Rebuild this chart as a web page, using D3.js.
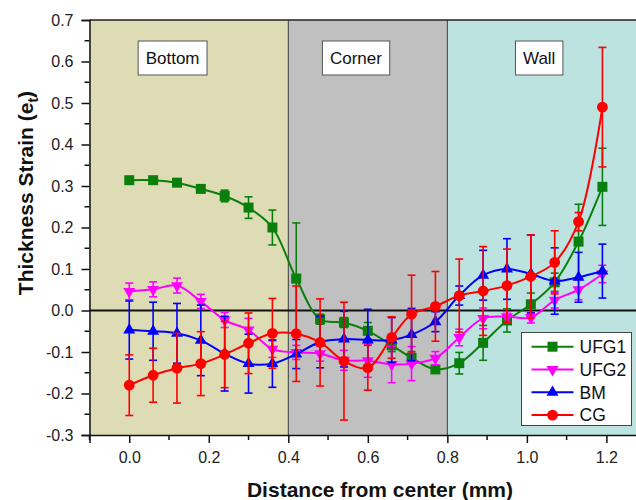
<!DOCTYPE html>
<html>
<head>
<meta charset="utf-8">
<script src="https://cdn.jsdelivr.net/npm/d3@7"></script>
<style>
  html, body { margin: 0; padding: 0; background: #fff; }
  svg { display: block; font-family: "Liberation Sans", Arial, sans-serif; }
</style>
</head>
<body>
<svg id="chart" width="636" height="500"></svg>
<script>
// Measurement positions (mm from center)
const distance = [0, 0.06, 0.12, 0.18, 0.24, 0.30, 0.36, 0.42, 0.48, 0.54, 0.60,
                  0.66, 0.71, 0.77, 0.83, 0.89, 0.95, 1.01, 1.07, 1.13, 1.19];

// Thickness strain means and error half-widths per material
const ufg1 = [0.314, 0.314, 0.308, 0.293, 0.276, 0.248, 0.200, 0.077, -0.021, -0.029, -0.049,
              -0.084, -0.114, -0.142, -0.127, -0.078, -0.024, 0.015, 0.068, 0.166, 0.298];
const ufg1Err = [0.006, 0.006, 0.008, 0.006, 0.014, 0.026, 0.042, 0.134, 0.012, 0.012, 0.020,
                 0.015, 0.015, 0.006, 0.026, 0.042, 0.028, 0.027, 0.022, 0.090, 0.093];

const ufg2 = [0.046, 0.051, 0.060, 0.022, -0.023, -0.047, -0.093, -0.101, -0.104, -0.120, -0.121,
              -0.130, -0.128, -0.115, -0.065, -0.019, -0.015, -0.017, 0.025, 0.050, 0.088];
const ufg2Err = [0.020, 0.018, 0.018, 0.017, 0.018, 0.028, 0.020, 0.017, 0.018, 0.024, 0.040,
                 0.044, 0.041, 0.016, 0.020, 0.025, 0.012, 0.013, 0.019, 0.024, 0.021];

const bm = [-0.047, -0.050, -0.055, -0.072, -0.104, -0.128, -0.128, -0.105, -0.076, -0.069, -0.071,
            -0.071, -0.058, -0.027, 0.036, 0.085, 0.100, 0.088, 0.071, 0.080, 0.095];
const bmErr = [0.070, 0.070, 0.072, 0.085, 0.090, 0.071, 0.057, 0.035, 0.062, 0.067, 0.074,
               0.054, 0.063, 0.024, 0.023, 0.060, 0.073, 0.094, 0.080, 0.060, 0.065];

const cg = [-0.180, -0.156, -0.139, -0.128, -0.106, -0.079, -0.055, -0.056, -0.077, -0.122, -0.138,
            -0.065, -0.009, 0.010, 0.036, 0.047, 0.060, 0.082, 0.116, 0.214, 0.490];
const cgErr = [0.073, 0.065, 0.084, 0.077, 0.080, 0.073, 0.084, 0.115, 0.105, 0.142, 0.054,
               0.050, 0.094, 0.084, 0.088, 0.107, 0.088, 0.100, 0.076, 0.022, 0.144];

const seriesNames = ["UFG1", "UFG2", "BM", "CG"];
const seriesColors = ["#0b7f0b", "#ff00ff", "#0000ff", "#ff0000"];
const seriesSymbols = ["square", "triangleDown", "triangleUp", "circle"];

// Zones along the cup profile
const zoneNames = ["Bottom", "Corner", "Wall"];
const zoneStarts = [-0.1, 0.4, 0.8];
const zoneEnds = [0.4, 0.8, 1.36];
const zoneColors = ["#dedcb5", "#c0c0c0", "#bde3e0"];
const zoneLabelX = [0.109, 0.57, 1.031];

const xTicks = [0.0, 0.2, 0.4, 0.6, 0.8, 1.0, 1.2];
const yTicks = [0.7, 0.6, 0.5, 0.4, 0.3, 0.2, 0.1, 0.0, -0.1, -0.2, -0.3];

const svg = d3.select("#chart");
const plotLeft = 89.5, plotRight = 670, plotTop = 20, plotBottom = 435;

const x = d3.scaleLinear().domain([-0.1, 1.36]).range([plotLeft, plotRight]);
const y = d3.scaleLinear().domain([-0.3, 0.7]).range([plotBottom, plotTop]);

// Zone backgrounds
svg.append("g").selectAll("rect").data(zoneNames).join("rect")
  .attr("x", (d, i) => x(zoneStarts[i]))
  .attr("y", plotTop)
  .attr("width", (d, i) => x(zoneEnds[i]) - x(zoneStarts[i]))
  .attr("height", plotBottom - plotTop)
  .attr("fill", (d, i) => zoneColors[i]);

// Zone boundaries
svg.append("g").selectAll("line").data([0.4, 0.8]).join("line")
  .attr("x1", d => x(d)).attr("x2", d => x(d))
  .attr("y1", plotTop).attr("y2", plotBottom)
  .attr("stroke", "#3a3a3a").attr("stroke-width", 1);

// Zone labels in boxes
const zl = svg.append("g").selectAll("g").data(zoneNames).join("g");
zl.append("text")
  .attr("x", (d, i) => x(zoneLabelX[i]))
  .attr("y", 58)
  .attr("text-anchor", "middle")
  .attr("dy", "0.35em")
  .attr("font-size", 17)
  .attr("fill", "#111")
  .text(d => d);
zl.each(function() {
  const g = d3.select(this);
  const bb = g.select("text").node().getBBox();
  g.insert("rect", "text")
    .attr("x", bb.x - 7.5).attr("y", 41)
    .attr("width", bb.width + 15).attr("height", 34)
    .attr("fill", "#fff").attr("stroke", "#555").attr("stroke-width", 1);
});

// Zero reference line
svg.append("line")
  .attr("x1", plotLeft).attr("x2", 636)
  .attr("y1", y(0)).attr("y2", y(0))
  .attr("stroke", "#111").attr("stroke-width", 2);

// Frame top
svg.append("line")
  .attr("x1", plotLeft).attr("x2", 636).attr("y1", plotTop).attr("y2", plotTop)
  .attr("stroke", "#222").attr("stroke-width", 1.5);

// Axes
const xAxis = svg.append("g").attr("transform", `translate(0,${plotBottom})`)
  .call(d3.axisBottom(x).tickValues(xTicks).tickSize(8).tickPadding(6)
        .tickFormat(d3.format(".1f")));
xAxis.select(".domain").attr("stroke", "#111").attr("stroke-width", 1.5);
const minorX = d3.range(-0.1, 1.31, 0.2).map(v => +v.toFixed(2));
xAxis.selectAll(".minor").data(minorX).join("line").attr("class", "minor")
  .attr("x1", d => x(d)).attr("x2", d => x(d)).attr("y1", 0).attr("y2", 5)
  .attr("stroke", "#111").attr("stroke-width", 1.5);

const yAxis = svg.append("g").attr("transform", `translate(${plotLeft},0)`)
  .call(d3.axisLeft(y).tickValues(yTicks).tickSize(8).tickPadding(8)
        .tickFormat(d3.format(".1f")));
yAxis.select(".domain").attr("stroke", "#111").attr("stroke-width", 1.5);
const minorY = d3.range(-0.25, 0.7, 0.1).map(v => +v.toFixed(2));
yAxis.selectAll(".minor").data(minorY).join("line").attr("class", "minor")
  .attr("x1", -5).attr("x2", 0).attr("y1", d => y(d)).attr("y2", d => y(d))
  .attr("stroke", "#111").attr("stroke-width", 1.5);

[xAxis, yAxis].forEach(a => {
  a.selectAll(".tick line").attr("stroke", "#111").attr("stroke-width", 1.5);
  a.selectAll(".tick text").attr("font-size", 16).attr("fill", "#222")
    .attr("font-family", "Liberation Sans, Arial, sans-serif");
});
yAxis.selectAll(".tick text").text(d => d3.format(".1f")(d).replace("\u2212", "-"));
xAxis.selectAll(".tick text").attr("dy", "0.9em");

// Axis titles
svg.append("text")
  .attr("x", 380).attr("y", 497)
  .attr("text-anchor", "middle")
  .attr("font-size", 21).attr("font-weight", "bold").attr("fill", "#111")
  .text("Distance from center (mm)");

const yt = svg.append("text")
  .attr("transform", "translate(33,193) rotate(-90)")
  .attr("text-anchor", "middle")
  .attr("font-size", 21).attr("font-weight", "bold").attr("fill", "#111");
yt.append("tspan").text("Thickness Strain (e");
yt.append("tspan").attr("font-size", 14).attr("dy", 5).text("t");
yt.append("tspan").attr("dy", -5).text(")");

// Symbols
const symbolMap = {
  square: d3.symbol().type(d3.symbolSquare).size(100),
  circle: d3.symbol().type(d3.symbolCircle).size(92),
  triangleUp: d3.symbol().type(d3.symbolTriangle).size(62),
  triangleDown: d3.symbol().type(d3.symbolTriangle).size(62)
};
function drawSymbol(sel, kind, color) {
  sel.append("path")
    .attr("d", symbolMap[kind]())
    .attr("transform", kind === "triangleDown" ? "rotate(180)" : null)
    .attr("fill", color);
}

const allValues = [ufg1, ufg2, bm, cg];
const allErrors = [ufg1Err, ufg2Err, bmErr, cgErr];

const line = d3.line()
  .x(d => x(d.x)).y(d => y(d.v))
  .curve(d3.curveCatmullRom.alpha(0.5));

seriesNames.forEach((name, s) => {
  const color = seriesColors[s];
  const pts = distance.map((d, i) => ({ x: d, v: allValues[s][i], e: allErrors[s][i] }));
  const g = svg.append("g");

  // error bars
  const eb = g.append("g").selectAll("g").data(pts).join("g");
  eb.append("line")
    .attr("x1", d => x(d.x)).attr("x2", d => x(d.x))
    .attr("y1", d => y(d.v - d.e)).attr("y2", d => y(d.v + d.e))
    .attr("stroke", color).attr("stroke-width", 1.6);
  [-1, 1].forEach(sign => {
    eb.append("line")
      .attr("x1", d => x(d.x) - 4).attr("x2", d => x(d.x) + 4)
      .attr("y1", d => y(d.v + sign * d.e)).attr("y2", d => y(d.v + sign * d.e))
      .attr("stroke", color).attr("stroke-width", 1.6);
  });

  // smoothed line
  g.append("path").datum(pts)
    .attr("d", line).attr("fill", "none")
    .attr("stroke", color).attr("stroke-width", 2);

  // markers
  const mk = g.append("g").selectAll("g").data(pts).join("g")
    .attr("transform", d => `translate(${x(d.x)},${y(d.v)})`);
  drawSymbol(mk, seriesSymbols[s], color);
});

// Legend
const legend = svg.append("g");
legend.append("rect")
  .attr("x", 521.5).attr("y", 332.5).attr("width", 110).attr("height", 93)
  .attr("fill", "#fff").attr("stroke", "#444").attr("stroke-width", 1);
seriesNames.forEach((name, s) => {
  const ly = 346.7 + s * 22.8;
  const item = legend.append("g");
  item.append("line").attr("x1", 531.5).attr("x2", 573.5).attr("y1", ly).attr("y2", ly)
    .attr("stroke", seriesColors[s]).attr("stroke-width", 2);
  const m = item.append("g").attr("transform", `translate(552.5,${ly})`);
  drawSymbol(m, seriesSymbols[s], seriesColors[s]);
  item.append("text").attr("x", 579.5).attr("y", ly).attr("dy", "0.36em")
    .attr("font-size", 17.5).attr("fill", "#111").text(name);
});
</script>
</body>
</html>
